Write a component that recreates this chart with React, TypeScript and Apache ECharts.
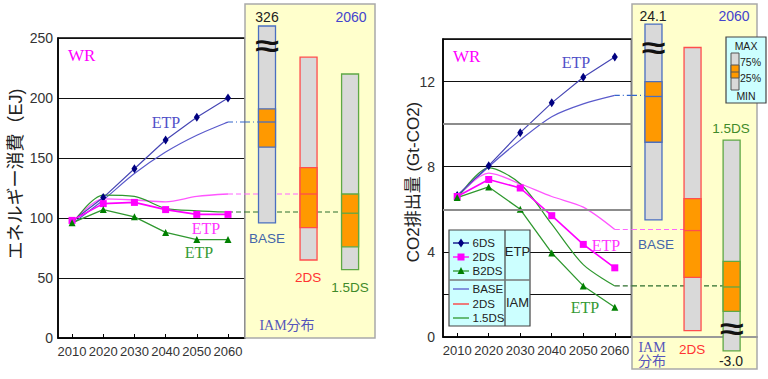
import React, { useEffect, useRef } from "react";
import * as echarts from "echarts";

// ---------------- data ----------------
const years = [2010, 2020, 2030, 2040, 2050, 2060];

// Energy consumption (EJ)
const etp6dsEnergy = [97, 117, 141, 165, 184, 200];
const etp2dsEnergy = [98, 112, 113, 107, 103, 103];
const etpB2dsEnergy = [96, 107, 101, 88, 82, 82];
const iamBaseEnergy = [95, 115, 137, 155, 169, 180];
const iam2dsEnergy = [96, 116, 115, 113.5, 118, 120];
const iam15dsEnergy = [95, 119, 118, 108, 106, 105];

// CO2 emissions (Gt-CO2)
const etp6dsCo2 = [6.65, 8.05, 9.6, 11.0, 12.2, 13.15];
const etp2dsCo2 = [6.6, 7.4, 7.0, 5.7, 4.35, 3.25];
const etpB2dsCo2 = [6.55, 7.05, 6.0, 3.95, 2.4, 1.4];
const iamBaseCo2 = [6.6, 8.0, 9.25, 10.35, 10.95, 11.35];
const iam2dsCo2 = [6.6, 7.7, 7.2, 6.6, 6.1, 5.05];
const iam15dsCo2 = [6.5, 7.95, 7.2, 5.3, 3.4, 2.4];

// axis ticks
const energyAxis = { min: 0, max: 250, interval: 50 };
const co2Axis = { min: 0, max: 14, interval: 2 };
const co2LabelStep = 4;
const co2GrayLines = [6, 10];

// IAM 2060 distributions: [min, q1(25%), median, q3(75%), max]
const boxNames = ["BASE", "2DS", "1.5DS"];
const energyBox2060 = [
  [96, 159, 180, 191, 326],
  [65, 92, 120, 142, 234],
  [57, 76, 104, 120, 220],
];
const co2Box2060 = [
  [5.5, 9.15, 11.3, 12.0, 24.1],
  [0.3, 2.8, 5.0, 6.5, 13.6],
  [-3.0, 1.2, 2.35, 3.55, 9.25],
];
// where broken bars are cut off and where the "≈" mark sits
const energyBreaks: any[] = [{ high: 260, mark: 244 }, null, null];
const co2Breaks: any[] = [{ high: 14.7, mark: 13.6 }, null, { low: -0.65, mark: 0.4 }];

// ---------------- styles ----------------
const SANS = '"Liberation Sans", Arial, "Noto Sans CJK JP", sans-serif';
const SERIF = '"Liberation Serif", "Times New Roman", "Noto Sans CJK JP", serif';
const CJK = '"Liberation Sans", "Noto Sans CJK JP", sans-serif';

const C = {
  etp6ds: "#000080",
  etp6dsLine: "#4646b4",
  etp2ds: "#ff00ff",
  etpB2ds: "#008000",
  etpB2dsLine: "#2f982f",
  iamBase: "#5a5acb",
  iam2ds: "#ff55ff",
  iam15ds: "#2f982f",
  legend2ds: "#ff3333",
};
const boxColors = ["#4a6fc0", "#ff4d4d", "#5fa845"];
const connColors = ["#3366cc", "#ff66ff", "#2d6e2d"];
const connDash = [[5, 3, 1, 3], [5, 3], [5, 3]];

// layout
const LA = { left: 58, top: 38, width: 187, height: 300 };
const LB = { left: 245, top: 38, width: 130, height: 300 };
const RA = { left: 443, top: 39, width: 188.5, height: 298 };
const RB = { left: 632, top: 39, width: 125, height: 298 };
const BOX_W = 17;

function lineSeries(name: string, data: number[], idx: number, color: string, lineColor: string, width: number, symbol: any, size: any, smooth = 0) {
  return {
    type: "line",
    name,
    xAxisIndex: idx,
    yAxisIndex: idx,
    data: years.map((y, i) => [y, data[i]]),
    symbol: symbol || "none",
    showSymbol: !!symbol,
    symbolSize: size,
    smooth,
    itemStyle: { color },
    lineStyle: { color: lineColor, width },
    z: symbol ? 4 : 3,
    silent: true,
  };
}

function boxSeries(boxes: number[][], breaks: any[], idx: number) {
  const data = boxes.map((b, i) => {
    const br = breaks[i];
    const lo = br && br.low !== undefined ? br.low : b[0];
    const hi = br && br.high !== undefined ? br.high : b[4];
    return [i, lo, b[1], b[2], b[3], hi];
  });
  return {
    type: "custom",
    xAxisIndex: idx,
    yAxisIndex: idx,
    data,
    encode: { x: 0, y: 1 },
    z: 3,
    silent: true,
    renderItem: (params: any, api: any) => {
      const i = api.value(0);
      const lo = api.coord([i, api.value(1)]);
      const q1 = api.coord([i, api.value(2)])[1];
      const md = api.coord([i, api.value(3)])[1];
      const q3 = api.coord([i, api.value(4)])[1];
      const hi = api.coord([i, api.value(5)])[1];
      const x0 = lo[0] - BOX_W / 2;
      const c = boxColors[i];
      const children: any[] = [
        { type: "rect", shape: { x: x0, y: hi, width: BOX_W, height: lo[1] - hi }, style: { fill: "#d9d9d9", stroke: c, lineWidth: 1.3 } },
        { type: "rect", shape: { x: x0, y: q3, width: BOX_W, height: q1 - q3 }, style: { fill: "#ff9900", stroke: c, lineWidth: 1.3 } },
        { type: "line", shape: { x1: x0, y1: md, x2: x0 + BOX_W, y2: md }, style: { stroke: c, lineWidth: 1.3 } },
      ];
      const br = breaks[params.dataIndex];
      if (br) {
        const yb = api.coord([i, br.mark])[1];
        children.push({
          type: "text",
          x: lo[0],
          y: yb,
          scaleX: 1.45,
          style: { text: "≈", fill: "#111", fontSize: 30, fontWeight: "bold", fontFamily: SANS, align: "center", verticalAlign: "middle" },
        });
      }
      return { type: "group", children };
    },
  };
}

// dashed connector inside the line plot: from 2060 to the plot's right edge
function connSeriesA(ends: number[], idx: number) {
  return {
    type: "custom",
    xAxisIndex: idx,
    yAxisIndex: idx,
    data: ends.map((v, i) => [years[years.length - 1], v, i]),
    encode: { x: 0, y: 1 },
    z: 2,
    silent: true,
    renderItem: (params: any, api: any) => {
      const p = api.coord([api.value(0), api.value(1)]);
      const i = api.value(2);
      return {
        type: "line",
        shape: { x1: p[0], y1: p[1], x2: params.coordSys.x + params.coordSys.width, y2: p[1] },
        style: { stroke: connColors[i], lineWidth: 1.1, lineDash: connDash[i] },
      };
    },
  };
}
// dashed connector inside the distribution panel: from its left edge to the bar
function connSeriesB(ends: number[], idx: number) {
  return {
    type: "custom",
    xAxisIndex: idx,
    yAxisIndex: idx,
    data: ends.map((v, i) => [i, v]),
    encode: { x: 0, y: 1 },
    z: 2,
    silent: true,
    renderItem: (params: any, api: any) => {
      const i = api.value(0);
      const p = api.coord([i, api.value(1)]);
      return {
        type: "line",
        shape: { x1: params.coordSys.x, y1: p[1], x2: p[0] - BOX_W / 2, y2: p[1] },
        style: { stroke: connColors[i], lineWidth: 1.1, lineDash: connDash[i] },
      };
    },
  };
}

function txt(text: string, x: number, y: number, o: any = {}) {
  return {
    type: "text",
    z: 20,
    x,
    y,
    rotation: o.rotation || 0,
    silent: true,
    style: {
      text,
      fill: o.fill || "#222",
      fontSize: o.size || 14,
      fontFamily: o.family || SANS,
      fontWeight: o.weight || "normal",
      align: o.align || "center",
      verticalAlign: "middle",
    },
  };
}

function yellowRect(x: number, y: number, w: number, h: number) {
  return { type: "rect", z: 1, silent: true, shape: { x, y, width: w, height: h }, style: { fill: "#ffffcc", stroke: "#a9a9a9", lineWidth: 1.5 } };
}

function marker(kind: string, cx: number, cy: number, color: string) {
  if (kind === "diamond")
    return { type: "polygon", shape: { points: [[cx, cy - 4.5], [cx + 3, cy], [cx, cy + 4.5], [cx - 3, cy]] }, style: { fill: color } };
  if (kind === "rect") return { type: "rect", shape: { x: cx - 3.5, y: cy - 3.5, width: 7, height: 7 }, style: { fill: color } };
  return { type: "polygon", shape: { points: [[cx, cy - 4], [cx + 3.5, cy + 3], [cx - 3.5, cy + 3]] }, style: { fill: color } };
}

// give every element of a group the same high z so it sits above the plot
function onTop(children: any[], z: number) {
  return children.map((c, k) => ({ ...c, z, z2: k }));
}

function seriesLegend() {
  const rows = [
    { name: "6DS", color: C.etp6ds, line: C.etp6ds, mk: "diamond", y: 13 },
    { name: "2DS", color: C.etp2ds, line: C.etp2ds, mk: "rect", y: 27 },
    { name: "B2DS", color: C.etpB2ds, line: C.etpB2dsLine, mk: "triangle", y: 41 },
    { name: "BASE", color: "", line: C.iamBase, mk: "", y: 59 },
    { name: "2DS", color: "", line: C.legend2ds, mk: "", y: 74 },
    { name: "1.5DS", color: "", line: C.iam15ds, mk: "", y: 88 },
  ];
  const children: any[] = [
    { type: "rect", shape: { x: 0, y: 0, width: 81, height: 96 }, style: { fill: "#ccffff", stroke: "#444", lineWidth: 1.2 } },
    { type: "line", shape: { x1: 56, y1: 0, x2: 56, y2: 96 }, style: { stroke: "#444", lineWidth: 1.2 } },
    { type: "line", shape: { x1: 0, y1: 50, x2: 81, y2: 50 }, style: { stroke: "#777", lineWidth: 1.5 } },
  ];
  rows.forEach((r) => {
    children.push({ type: "line", shape: { x1: 4, y1: r.y, x2: 20, y2: r.y }, style: { stroke: r.line, lineWidth: 1.3 } });
    if (r.mk) children.push(marker(r.mk, 12, r.y, r.color));
    children.push(txt(r.name, 23.5, r.y, { align: "left", size: 11.5 }));
  });
  children.push(txt("ETP", 68.5, 21, { size: 13 }));
  children.push(txt("IAM", 68.5, 72, { size: 13 }));
  return { type: "group", x: 449, y: 230, z: 20, silent: true, children: onTop(children, 20) };
}

function boxKey() {
  const children = [
    { type: "rect", shape: { x: 0, y: 0, width: 40, height: 66 }, style: { fill: "#ccffff", stroke: "#444", lineWidth: 1.2 } },
    { type: "rect", shape: { x: 5, y: 16, width: 8, height: 37 }, style: { fill: "#d9d9d9", stroke: "#555", lineWidth: 1 } },
    { type: "rect", shape: { x: 5, y: 28, width: 8, height: 13 }, style: { fill: "#ff9900", stroke: "#555", lineWidth: 1 } },
    { type: "line", shape: { x1: 5, y1: 35, x2: 13, y2: 35 }, style: { stroke: "#555", lineWidth: 1 } },
    txt("MAX", 20, 9, { size: 10.5 }),
    txt("75%", 14, 25, { size: 10.5, align: "left" }),
    txt("25%", 14, 41, { size: 10.5, align: "left" }),
    txt("MIN", 20, 59, { size: 10.5 }),
  ];
  return { type: "group", x: 726, y: 37, z: 20, silent: true, children: onTop(children, 20) };
}

function buildOption() {
  const xA = (idx: number, min: number, max: number) => ({
    type: "value",
    gridIndex: idx,
    min,
    max,
    axisLine: { show: true, lineStyle: { color: "#000", width: 1.5 } },
    axisTick: { show: true, inside: true, length: 4, customValues: years, lineStyle: { color: "#000" } },
    axisLabel: {
      customValues: years,
      color: "#333",
      fontSize: 13,
      fontFamily: SANS,
      margin: 7,
      showMinLabel: true,
      showMaxLabel: true,
      hideOverlap: false,
      formatter: (v: number) => String(v),
    },
    splitLine: { show: false },
  });
  const xB = (idx: number, min: number, max: number, showLine: boolean) => ({
    type: "value",
    gridIndex: idx,
    min,
    max,
    z: 1.5,
    axisLine: { show: showLine, lineStyle: { color: "#999", width: 2 } },
    axisTick: { show: false },
    axisLabel: { show: false },
    splitLine: { show: false },
  });
  const yHidden = (idx: number, ax: any) => ({
    type: "value",
    gridIndex: idx,
    min: ax.min,
    max: ax.max,
    interval: ax.interval,
    show: false,
    splitLine: { show: false },
  });

  const iamEndsEnergy = [iamBaseEnergy[5], iam2dsEnergy[5], iam15dsEnergy[5]];
  const iamEndsCo2 = [iamBaseCo2[5], iam2dsCo2[5], iam15dsCo2[5]];

  const co2Gray = {
    type: "line",
    xAxisIndex: 2,
    yAxisIndex: 2,
    data: [],
    silent: true,
    markLine: {
      silent: true,
      symbol: "none",
      label: { show: false },
      lineStyle: { color: "#8c8c8c", width: 2, type: "solid" },
      data: co2GrayLines.map((v) => ({ yAxis: v })),
    },
  };

  return {
    animation: false,
    backgroundColor: "#fff",
    grid: [
      { ...LA, show: true, borderColor: "#000", borderWidth: 1.5 },
      { ...LB },
      { ...RA, show: true, borderColor: "#000", borderWidth: 1.5 },
      { ...RB },
    ],
    xAxis: [xA(0, 2005.5, 2065.45), xB(1, -0.53, 2.6, false), xA(2, 2005.5, 2065.3), xB(3, -0.55, 2.65, true)],
    yAxis: [
      {
        type: "value",
        gridIndex: 0,
        min: energyAxis.min,
        max: energyAxis.max,
        interval: energyAxis.interval,
        axisLine: { show: true, lineStyle: { color: "#000", width: 1.5 } },
        axisTick: { show: false },
        axisLabel: { color: "#333", fontSize: 14, fontFamily: SANS, margin: 5 },
        splitLine: { show: true, lineStyle: { color: "#111", width: 1 } },
      },
      yHidden(1, energyAxis),
      {
        type: "value",
        gridIndex: 2,
        min: co2Axis.min,
        max: co2Axis.max,
        interval: co2Axis.interval,
        axisLine: { show: true, lineStyle: { color: "#000", width: 1.5 } },
        axisTick: { show: false },
        axisLabel: {
          color: "#333",
          fontSize: 14,
          fontFamily: SANS,
          margin: 8,
          formatter: (v: number) => (v % co2LabelStep === 0 && v < co2Axis.max ? String(v) : ""),
        },
        splitLine: { show: true, lineStyle: { color: "#111", width: 1 } },
      },
      yHidden(3, co2Axis),
    ],
    series: [
      // left panel
      connSeriesA(iamEndsEnergy, 0),
      lineSeries("IAM BASE", iamBaseEnergy, 0, C.iamBase, C.iamBase, 1.2, null, 0, 0.3),
      lineSeries("IAM 2DS", iam2dsEnergy, 0, C.iam2ds, C.iam2ds, 1.3, null, 0, 0.3),
      lineSeries("IAM 1.5DS", iam15dsEnergy, 0, C.iam15ds, C.iam15ds, 1.2, null, 0, 0.3),
      lineSeries("ETP 6DS", etp6dsEnergy, 0, C.etp6ds, C.etp6dsLine, 1.2, "diamond", [6, 9]),
      lineSeries("ETP 2DS", etp2dsEnergy, 0, C.etp2ds, C.etp2ds, 1.6, "rect", 7),
      lineSeries("ETP B2DS", etpB2dsEnergy, 0, C.etpB2ds, C.etpB2dsLine, 1.3, "triangle", 7),
      connSeriesB(iamEndsEnergy, 1),
      boxSeries(energyBox2060, energyBreaks, 1),
      // right panel
      co2Gray,
      connSeriesA(iamEndsCo2, 2),
      lineSeries("IAM BASE", iamBaseCo2, 2, C.iamBase, C.iamBase, 1.2, null, 0, 0.3),
      lineSeries("IAM 2DS", iam2dsCo2, 2, C.iam2ds, C.iam2ds, 1.3, null, 0, 0.3),
      lineSeries("IAM 1.5DS", iam15dsCo2, 2, C.iam15ds, C.iam15ds, 1.2, null, 0, 0.3),
      lineSeries("ETP 6DS", etp6dsCo2, 2, C.etp6ds, C.etp6dsLine, 1.2, "diamond", [6, 9]),
      lineSeries("ETP 2DS", etp2dsCo2, 2, C.etp2ds, C.etp2ds, 1.6, "rect", 7),
      lineSeries("ETP B2DS", etpB2dsCo2, 2, C.etpB2ds, C.etpB2dsLine, 1.3, "triangle", 7),
      connSeriesB(iamEndsCo2, 3),
      boxSeries(co2Box2060, co2Breaks, 3),
    ],
    graphic: [
      yellowRect(245, 4, 130, 334),
      yellowRect(632, 4, 125, 365),
      // axis titles
      txt("エネルギー消費（EJ)", 16, 174, { rotation: Math.PI / 2, size: 18, family: CJK }),
      txt("CO2排出量 (Gt-CO2)", 413, 182, { rotation: Math.PI / 2, size: 17, family: CJK }),
      // left annotations
      txt("WR", 68, 55, { align: "left", size: 17, family: SERIF, fill: "#ff00ff" }),
      txt("ETP", 166, 122, { size: 16, family: SERIF, fill: "#5050c8" }),
      txt("ETP", 206, 228, { size: 16, family: SERIF, fill: "#ff33ff" }),
      txt("ETP", 199, 252, { size: 16, family: SERIF, fill: "#339933" }),
      // left distribution labels
      txt(String(energyBox2060[0][4]), 267, 17, { size: 14 }),
      txt("2060", 351, 17, { size: 14, fill: "#4444cc" }),
      txt(boxNames[0], 267, 238, { size: 13.5, fill: "#4466aa" }),
      txt(boxNames[1], 308, 277, { size: 13.5, fill: "#ff3333" }),
      txt(boxNames[2], 350, 287, { size: 13.5, fill: "#3f8a2a" }),
      txt("IAM分布", 287, 325, { size: 14, family: SERIF, fill: "#5555bb" }),
      // right annotations
      txt("WR", 453, 56, { align: "left", size: 17, family: SERIF, fill: "#ff00ff" }),
      txt("ETP", 576, 62, { size: 16, family: SERIF, fill: "#5050c8" }),
      txt("ETP", 606, 245, { size: 16, family: SERIF, fill: "#ff33ff" }),
      txt("ETP", 585, 307, { size: 16, family: SERIF, fill: "#339933" }),
      // right distribution labels
      txt(co2Box2060[0][4].toFixed(1), 653, 16, { size: 14 }),
      txt("2060", 734, 16, { size: 14, fill: "#4444cc" }),
      txt(boxNames[2], 731, 128, { size: 13.5, fill: "#3f8a2a" }),
      txt(boxNames[0], 656, 244, { size: 13.5, fill: "#4466aa" }),
      txt(boxNames[1], 692, 349, { size: 13.5, fill: "#ff3333" }),
      txt("IAM", 652, 347, { size: 14, family: SERIF, fill: "#5555bb" }),
      txt("分布", 652, 361, { size: 14, family: SERIF, fill: "#5555bb" }),
      txt(co2Box2060[2][0].toFixed(1), 731, 361, { size: 14 }),
      seriesLegend(),
      boxKey(),
    ],
  };
}

export default function App() {
  const ref = useRef<HTMLDivElement>(null);
  useEffect(() => {
    document.body.style.margin = "0";
    if (!ref.current) return;
    const chart = echarts.init(ref.current, null, { renderer: "svg" });
    chart.setOption(buildOption() as any);
    return () => chart.dispose();
  }, []);
  return <div ref={ref} style={{ width: 768, height: 379 }} />;
}
